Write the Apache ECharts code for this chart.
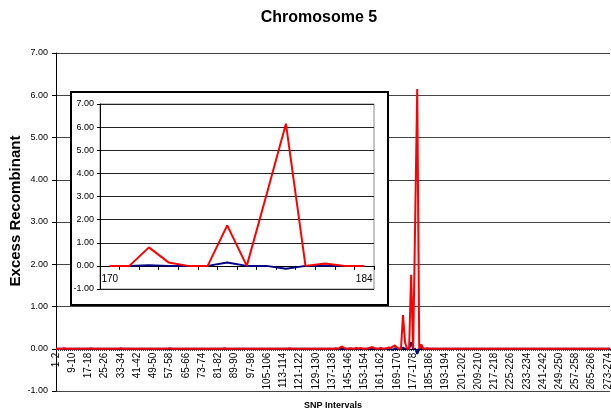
<!DOCTYPE html>
<html>
<head>
<meta charset="utf-8">
<script src="https://cdn.jsdelivr.net/npm/echarts@6/dist/echarts.min.js"></script>
<style>
html,body{margin:0;padding:0;background:#fff;overflow:hidden;}
#c{width:611px;height:414px;}
</style>
</head>
<body>
<div id="c"></div>
<script>
// SNP interval categories "1-2" ... "274-275"
var categories = [];
for (var k = 1; k <= 274; k++) { categories.push(k + '-' + (k + 1)); }

// Excess recombinant, red series (one value per interval)
var redValues = [
  0,0,0,0,0.01,0,0,0,0,0,
  0,0,0,0,0,0,0,0.01,0,0,
  0,0,0,0,0,0,0,0,0,0,
  0,0,0.01,0,0,0,0,0,0,0,
  0,0,0,0,0,0,0,0,0,0,
  0,0,0,0,0,0,0.01,0,0,0,
  0,0,0,0,0,0,0,0,0,0,
  0,0,0,0,0,0,0,0,0,0,
  0,0,0,0.01,0,0,0,0,0,0,
  0,0,0,0,0,0,0,0,0,0,
  0,0,0,0,0,0,0,0,0,0,
  0,0,0,0,0,0.01,0,0,0,0,
  0,0,0,0,0,0,0,0,0,0,
  0,0,0,0,0,0,0,0,0.01,0,
  0.03,0.05,0.02,0,0,0.01,0,0,0.02,0,
  0.02,0,0,0,0.01,0.03,0.04,0.01,0,0,
  0.02,0,0,0.01,0.03,0.02,0.05,0.08,0.03,0,
  0,0.8,0.15,0,0,1.75,0,3.05,6.15,0,
  0.1,0,0,0.01,0,0,0,0,0,0,
  0,0,0,0,0,0,0,0,0,0,
  0,0,0,0,0,0,0,0,0,0,
  0,0,0,0,0,0,0,0,0,0,
  0,0,0,0,0,0,0,0,0,0,
  0,0,0,0,0,0,0,0,0,0,
  0,0,0,0,0,0,0,0,0,0,
  0,0,0,0,0,0,0,0,0,0,
  0,0,0,0,0,0,0,0,0,0,
  0,0,0,0
];

// Excess recombinant, navy series
var blueValues = [
  0,0,0,0,0,0,0,0,0,0,
  0,0,0,0,0,0,0,0,0,0,
  0,0,0,0,0,0,0,0,0,0,
  0,0,0,0,0,0,0,0,0,0,
  0,0,0,0,0,0,0,0,0,0,
  0,0,0,0,0,0,0,0,0,0,
  0,0,0,0,0,0,0,0,0,0,
  0,0,0,0,0,0,0,0,0,0,
  0,0,0,0,0,0,0,0,0,0,
  0,0,0,0,0,0,0,0,0,0,
  0,0,0,0,0,0,0,0,0,0,
  0,0,0,0,0,0,0,0,0,0,
  0,0,0,0,0,0,0,0,0,0,
  0,0,0,0,0,0,0,0,0,0,
  0,0,0,0,0,0,0,0,0,0,
  0,0,0,0,0,0,0,0,0,0,
  0,0,0,0,-0.02,0,-0.03,0.01,0,0,
  0,0.03,0,0,0,0.15,0,0,-0.12,0,
  0.02,0,0,0,0,0,0,0,0,0,
  0,0,0,0,0,0,0,0,0,0,
  0,0,0,0,0,0,0,0,0,0,
  0,0,0,0,0,0,0,0,0,0,
  0,0,0,0,0,0,0,0,0,0,
  0,0,0,0,0,0,0,0,0,0,
  0,0,0,0,0,0,0,0,0,0,
  0,0,0,0,0,0,0,0,0,0,
  0,0,0,0,0,0,0,0,0,0,
  0,0,0,0
];

// Inset: intervals 170 .. 184 (indices 169..182 of the main data)
var insetStart = 169, insetEnd = 183;
var insetLabels = ['170','','','','','','','','','','','','','184'];
var insetRed = redValues.slice(insetStart, insetEnd);
var insetBlue = blueValues.slice(insetStart, insetEnd);

var FONT = '"Liberation Sans", Arial, sans-serif';
var chart = echarts.init(document.getElementById('c'), null, {renderer: 'canvas'});

function fmt(v) { return v.toFixed(2); }

var mainH = 338, insetH = 185, yMin = -1, yMax = 7;

chart.setOption({
  animation: false,
  backgroundColor: '#fff',
  title: {
    text: 'Chromosome 5',
    left: 314, top: 5, textAlign: 'center',
    textStyle: {fontFamily: FONT, fontSize: 16, fontWeight: 'bold', color: '#000'}
  },
  graphic: [{
    type: 'rect', z: 10, zlevel: 0,
    shape: {x: 71, y: 92, width: 317, height: 213},
    style: {fill: '#fff', stroke: '#000', lineWidth: 2}
  }],
  grid: [
    {left: 56, top: 53, width: 554, height: mainH, outerBoundsMode: 'none', containLabel: false},
    {left: 100, top: 104, width: 274, height: insetH, show: true, z: 20,
     outerBoundsMode: 'none', containLabel: false,
     backgroundColor: 'transparent', borderColor: '#888', borderWidth: 1}
  ],
  xAxis: [
    {
      type: 'category', gridIndex: 0, data: categories, boundaryGap: false,
      offset: -mainH * (0 - yMin) / (yMax - yMin),
      name: 'SNP Intervals', nameLocation: 'middle', nameGap: 52,
      nameTextStyle: {fontFamily: FONT, fontSize: 9, fontWeight: 'bold', color: '#000'},
      axisLine: {onZero: false, lineStyle: {color: '#000', width: 1}},
      axisTick: {show: true, interval: 0, length: 2, lineStyle: {color: '#000'}},
      axisLabel: {interval: 7, rotate: 90, margin: 4, fontFamily: FONT, fontSize: 10, color: '#000'},
      splitLine: {show: false}
    },
    {
      type: 'category', gridIndex: 1, data: insetLabels, boundaryGap: true, z: 20,
      offset: -insetH * (0 - yMin) / (yMax - yMin),
      axisLine: {onZero: false, lineStyle: {color: '#000', width: 1}},
      axisTick: {show: true, interval: 0, length: 4, lineStyle: {color: '#000'}},
      axisLabel: {interval: 0, margin: 8, fontFamily: FONT, fontSize: 10, color: '#000'},
      splitLine: {show: false}
    }
  ],
  yAxis: [
    {
      type: 'value', gridIndex: 0, min: yMin, max: yMax, interval: 1,
      name: 'Excess Recombinant', nameLocation: 'middle', nameGap: 33, nameRotate: 90,
      nameMoveOverlap: false,
      nameTextStyle: {fontFamily: FONT, fontSize: 15, fontWeight: 'bold', color: '#000',
                      padding: [0, 0, 0, 22]},
      axisLine: {show: true, onZero: false, lineStyle: {color: '#000', width: 1}},
      axisTick: {show: true, length: 4, lineStyle: {color: '#000'}},
      axisLabel: {formatter: fmt, margin: 8, fontFamily: FONT, fontSize: 9, color: '#000'},
      splitLine: {show: true, lineStyle: {color: '#444', width: 1}}
    },
    {
      type: 'value', gridIndex: 1, min: yMin, max: yMax, interval: 1, z: 20,
      axisLine: {show: true, onZero: false, lineStyle: {color: '#000', width: 1}},
      axisTick: {show: true, length: 3, lineStyle: {color: '#000'}},
      axisLabel: {formatter: fmt, margin: 6, fontFamily: FONT, fontSize: 9, color: '#000'},
      splitLine: {show: true, lineStyle: {color: '#222', width: 1}}
    }
  ],
  series: [
    {type: 'line', xAxisIndex: 0, yAxisIndex: 0, data: blueValues, symbol: 'none',
     lineStyle: {color: '#000080', width: 2}, z: 2},
    {type: 'line', xAxisIndex: 0, yAxisIndex: 0, data: redValues, symbol: 'none',
     lineStyle: {color: '#ff0000', width: 2}, z: 3},
    {type: 'line', xAxisIndex: 1, yAxisIndex: 1, data: insetBlue, symbol: 'none',
     lineStyle: {color: '#000080', width: 2}, z: 21},
    {type: 'line', xAxisIndex: 1, yAxisIndex: 1, data: insetRed, symbol: 'none',
     lineStyle: {color: '#ff0000', width: 2}, z: 22}
  ]
});
</script>
</body>
</html>
